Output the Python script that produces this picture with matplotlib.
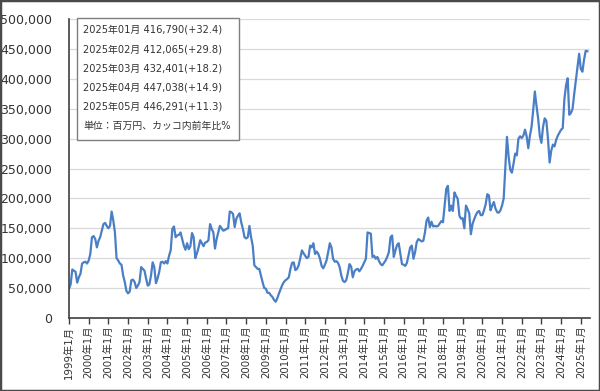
import numpy as np
import matplotlib
matplotlib.use("Agg")
import matplotlib.pyplot as plt
from matplotlib.patches import Rectangle

plt.rcParams['font.family'] = ['DejaVu Sans', 'Noto Sans CJK JP']

# monthly values, thousands of 百万円
y1999 = [49, 56, 81, 79, 77, 59, 68, 74, 91, 93, 94, 91]
y2000 = [96, 107, 135, 137, 132, 118, 129, 135, 146, 157, 159, 154]
y2001 = [150, 154, 178, 163, 143, 100, 96, 91, 89, 71, 60, 45]
y2002 = [41, 44, 63, 64, 60, 50, 54, 60, 85, 82, 79, 66]
y2003 = [54, 56, 71, 93, 85, 58, 66, 77, 93, 94, 91, 95]
y2004 = [91, 104, 113, 149, 153, 135, 138, 139, 143, 132, 121, 114]
y2005 = [125, 115, 120, 142, 135, 100, 108, 118, 130, 125, 120, 126]
y2006 = [127, 130, 157, 149, 143, 116, 132, 143, 154, 150, 146, 147]
y2007 = [149, 150, 178, 177, 174, 152, 166, 171, 175, 160, 149, 135]
y2008 = [133, 135, 154, 135, 121, 88, 85, 82, 82, 71, 60, 50]
y2009 = [49, 42, 42, 38, 35, 30, 27, 33, 41, 48, 55, 60]
y2010 = [63, 65, 68, 82, 92, 93, 80, 82, 88, 100, 113, 108]
y2011 = [104, 100, 102, 121, 118, 125, 107, 111, 107, 99, 87, 83]
y2012 = [89, 96, 110, 125, 118, 99, 94, 95, 92, 85, 71, 62]
y2013 = [60, 63, 75, 90, 86, 68, 78, 81, 82, 78, 82, 87]
y2014 = [93, 99, 143, 142, 141, 102, 104, 99, 102, 95, 90, 88]
y2015 = [92, 96, 102, 110, 135, 138, 102, 113, 122, 125, 108, 90]
y2016 = [89, 87, 92, 105, 118, 121, 99, 110, 127, 132, 130, 128]
y2017 = [129, 143, 163, 168, 152, 161, 153, 154, 153, 154, 158, 162]
y2018 = [160, 188, 216, 221, 179, 188, 179, 210, 204, 199, 171, 166]
y2019 = [167, 150, 188, 182, 175, 140, 157, 165, 172, 177, 179, 172]
y2020 = [172, 180, 190, 207, 205, 180, 188, 194, 183, 177, 176, 180]
y2021 = [188, 200, 250, 303, 270, 248, 243, 258, 275, 272, 300, 304]
y2022 = [301, 305, 315, 304, 284, 305, 320, 348, 379, 355, 334, 305]
y2023 = [293, 320, 334, 330, 300, 260, 280, 290, 287, 298, 305, 310]
y2024 = [315, 317.5, 366, 389, 401, 340, 343, 350, 375, 398, 420, 442]
y2025 = [416.790, 412.065, 432.401, 447.038, 446.291]

years = list(range(1999, 2026))
tick_labels = [f"{y}年1月" for y in years]

box_lines = [
    "2025年01月 416,790(+32.4)",
    "2025年02月 412,065(+29.8)",
    "2025年03月 432,401(+18.2)",
    "2025年04月 447,038(+14.9)",
    "2025年05月 446,291(+11.3)",
    "単位：百万円、カッコ内前年比%",
]

series = [y1999, y2000, y2001, y2002, y2003, y2004, y2005, y2006, y2007,
          y2008, y2009, y2010, y2011, y2012, y2013, y2014, y2015, y2016,
          y2017, y2018, y2019, y2020, y2021, y2022, y2023, y2024, y2025]
values = np.concatenate([np.array(s, dtype=float) for s in series]) * 1000
x = np.arange(len(values))

fig = plt.figure(figsize=(6.0, 3.91), dpi=100)
ax = fig.add_axes([0.115, 0.187, 0.868, 0.764])

ax.plot(x, values, color="#4a7fc6", lw=1.6, solid_joinstyle="round")

ax.set_xlim(0, 317.5)
ax.set_ylim(0, 500000)
ax.set_yticks(np.arange(0, 500001, 50000))
ax.set_yticklabels([f"{v:,}" for v in range(0, 500001, 50000)])
ax.set_xticks(np.arange(0, len(years) * 12, 12))
ax.set_xticklabels(tick_labels, rotation=90, fontsize=7.4)

ax.grid(axis="y", color="#d9d9d9", lw=0.9)
ax.set_axisbelow(True)
for s in ["top", "right"]:
    ax.spines[s].set_visible(False)
for s in ["left", "bottom"]:
    ax.spines[s].set_color("#404040")
    ax.spines[s].set_linewidth(1.2)

ax.tick_params(axis="y", length=0, pad=12, labelsize=9.0, colors="#333333")
ax.tick_params(axis="x", length=4, width=1, pad=1.5, color="#404040",
               labelcolor="#333333")

# info box
fig.patches.append(Rectangle((77 / 600, 1 - 140 / 391), 162 / 600, 122 / 391,
                             transform=fig.transFigure, facecolor="white",
                             edgecolor="#7f7f7f", lw=1.0, zorder=5))
for i, line in enumerate(box_lines):
    fig.text(83 / 600, 1 - (30 + 19.2 * i) / 391, line, fontsize=7.1,
             color="#333333", va="center", ha="left", zorder=6)

# outer frame
fig.patches.append(Rectangle((0, 0), 1, 1, transform=fig.transFigure,
                             facecolor="none", edgecolor="#4a4a4a", lw=2.5))

fig.savefig("out.png", dpi=100)
